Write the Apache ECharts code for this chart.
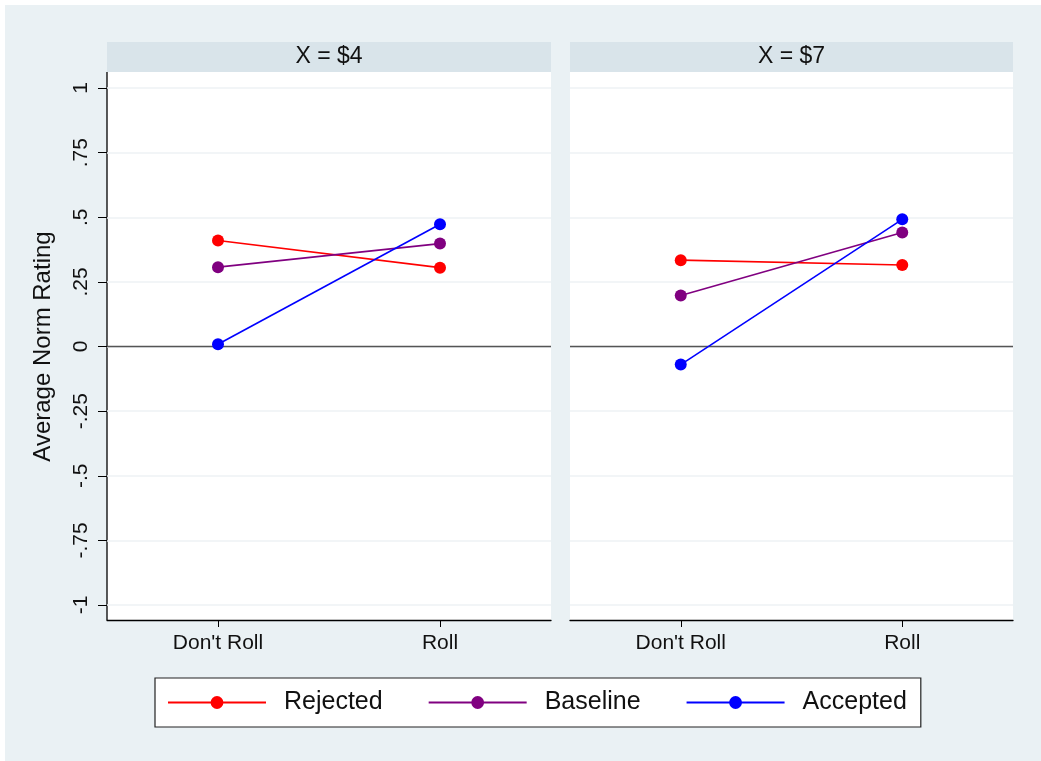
<!DOCTYPE html>
<html>
<head>
<meta charset="utf-8">
<script src="https://cdn.jsdelivr.net/npm/echarts@6/dist/echarts.min.js"></script>
<style>
html,body{margin:0;padding:0;background:#ffffff;}
#chart{width:1041px;height:761px;}
</style>
</head>
<body>
<div id="chart"></div>
<script>
const categories = ["Don't Roll", "Roll"];
const panelTitles = ["X = $4", "X = $7"];
const seriesNames = ["Rejected", "Baseline", "Accepted"];
const seriesColors = ["#ff0000", "#800080", "#0000ff"];
// values per panel
const rejectedX4 = [0.41, 0.305];
const baselineX4 = [0.307, 0.398];
const acceptedX4 = [0.009, 0.473];
const rejectedX7 = [0.334, 0.315];
const baselineX7 = [0.197, 0.441];
const acceptedX7 = [-0.07, 0.492];

const panelData = [
  [rejectedX4, baselineX4, acceptedX4],
  [rejectedX7, baselineX7, acceptedX7]
];

const FONT = 'Arial, "Liberation Sans", sans-serif';
const panels = [{left: 107, width: 444}, {left: 570, width: 443}];
const plotTop = 88, plotHeight = 517; // y from 1 to -1
const frameTop = 72, frameBottom = 620;

function fmtY(v) {
  if (v === 0) return '0';
  if (v === 1) return '1';
  if (v === -1) return '-1';
  return String(v).replace('0.', '.');
}

const grids = panels.map(p => ({left: p.left, top: plotTop, width: p.width, height: plotHeight, containLabel: false}));

const xAxes = panels.map((p, i) => ({
  type: 'category',
  gridIndex: i,
  data: categories,
  boundaryGap: true,
  offset: frameBottom - (plotTop + plotHeight),
  axisLine: {show: true, onZero: false, lineStyle: {color: '#000', width: 1.3}},
  axisTick: {show: true, alignWithLabel: true, length: 7, lineStyle: {color: '#000'}},
  axisLabel: {fontFamily: FONT, fontSize: 21, color: '#111', margin: 13},
  splitLine: {show: false}
}));

const yAxes = panels.map((p, i) => ({
  type: 'value',
  gridIndex: i,
  min: -1, max: 1, interval: 0.25,
  name: i === 0 ? 'Average Norm Rating' : '',
  nameLocation: 'middle',
  nameGap: 52,
  nameRotate: 90,
  nameTextStyle: {fontFamily: FONT, fontSize: 24, color: '#111'},
  axisLine: {show: false},
  axisTick: {show: i === 0, length: 9, lineStyle: {color: '#000'}},
  axisLabel: {show: i === 0, rotate: 90, fontFamily: FONT, fontSize: 21, color: '#111', margin: 15,
    formatter: v => fmtY(v)},
  splitLine: {show: true, lineStyle: {color: '#eef2f4', width: 1.5}}
}));

const series = [];
panelData.forEach((arrs, pi) => {
  arrs.forEach((vals, si) => {
    const s = {
      name: seriesNames[si],
      type: 'line',
      xAxisIndex: pi,
      yAxisIndex: pi,
      data: vals,
      symbol: 'circle',
      symbolSize: 12,
      itemStyle: {color: seriesColors[si]},
      lineStyle: {color: seriesColors[si], width: 1.6},
      z: 3 + si,
      animation: false
    };
    if (si === 0) {
      s.markLine = {
        silent: true, symbol: 'none', label: {show: false},
        lineStyle: {color: '#555', width: 1.3, type: 'solid'},
        data: [{yAxis: 0}]
      };
    }
    series.push(s);
  });
});

const graphics = [
  {type: 'rect', shape: {x: 0, y: 0, width: 1041, height: 5}, style: {fill: '#ffffff'}, silent: true},
  {type: 'rect', shape: {x: 0, y: 0, width: 5, height: 761}, style: {fill: '#ffffff'}, silent: true}
];
panels.forEach((p, i) => {
  graphics.push({type: 'rect', z: -10, shape: {x: p.left, y: frameTop, width: p.width, height: frameBottom - frameTop}, style: {fill: '#ffffff'}, silent: true});
  graphics.push({type: 'rect', shape: {x: p.left, y: 42, width: p.width, height: frameTop - 42}, style: {fill: '#d9e4ea'}, silent: true});
  graphics.push({type: 'text', style: {x: p.left + p.width / 2, y: 57, text: panelTitles[i], fill: '#111', font: '23px ' + FONT, align: 'center', verticalAlign: 'middle'}, silent: true});
});
graphics.push({type: 'line', shape: {x1: panels[0].left, y1: frameTop, x2: panels[0].left, y2: frameBottom}, style: {stroke: '#000', lineWidth: 1.3}, silent: true});

const chart = echarts.init(document.getElementById('chart'), null, {renderer: 'canvas'});
chart.setOption({
  animation: false,
  backgroundColor: '#eaf1f4',
  grid: grids,
  xAxis: xAxes,
  yAxis: yAxes,
  series: series,
  legend: {
    data: seriesNames,
    left: 155,
    top: 678,
    orient: 'horizontal',
    backgroundColor: '#ffffff',
    borderColor: '#222',
    borderWidth: 1.2,
    borderRadius: 0,
    padding: [12, 14, 12, 12],
    itemGap: 45,
    itemWidth: 98,
    itemHeight: 16,
    textStyle: {fontFamily: FONT, fontSize: 25, color: '#111', padding: [0, 0, 0, 13]},
    selectedMode: false
  },
  graphic: graphics
});
</script>
</body>
</html>
